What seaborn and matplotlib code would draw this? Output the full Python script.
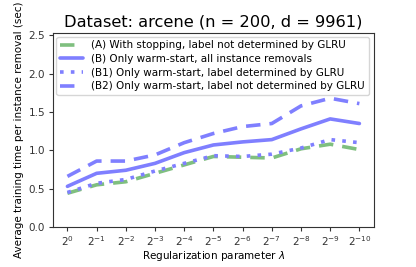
import matplotlib
matplotlib.use("Agg")
import matplotlib.pyplot as plt
import seaborn as sns
import pandas as pd
import numpy as np

sns.set_style("ticks", {"axes.edgecolor": "0.2", "text.color": "black",
                        "axes.labelcolor": "black", "xtick.color": "0.2",
                        "ytick.color": "0.2"})
plt.rcParams['font.family'] = ['DejaVu Sans']

tick_labels = [r"$2^{0}$", r"$2^{-1}$", r"$2^{-2}$", r"$2^{-3}$", r"$2^{-4}$", r"$2^{-5}$",
               r"$2^{-6}$", r"$2^{-7}$", r"$2^{-8}$", r"$2^{-9}$", r"$2^{-10}$"]
series_names = [
    "(A) With stopping, label not determined by GLRU",
    "(B) Only warm-start, all instance removals",
    "(B1) Only warm-start, label determined by GLRU",
    "(B2) Only warm-start, label not determined by GLRU",
]
a_vals = [0.44, 0.55, 0.59, 0.70, 0.81, 0.92, 0.91, 0.90, 1.02, 1.08, 1.01]
b_vals = [0.53, 0.70, 0.74, 0.83, 0.97, 1.07, 1.11, 1.14, 1.28, 1.41, 1.35]
b1_vals = [0.45, 0.57, 0.62, 0.73, 0.83, 0.93, 0.92, 0.95, 1.03, 1.14, 1.10]
b2_vals = [0.66, 0.86, 0.86, 0.94, 1.10, 1.22, 1.31, 1.35, 1.58, 1.68, 1.61]

x = list(range(len(tick_labels)))
colors = ["#7fbf7f", "#7f7fff", "#7f7fff", "#7f7fff"]
styles = [(0, (4, 2.5)), "-", (0, (1, 2)), (0, (4, 2.5))]

fig = plt.figure(figsize=(4.16, 2.67), dpi=100)
ax = fig.add_axes([0.127, 0.150, 0.772, 0.726])
for name, vals, c, ls in zip(series_names, [a_vals, b_vals, b1_vals, b2_vals], colors, styles):
    df = pd.DataFrame({"x": x, "y": vals})
    sns.lineplot(data=df, x="x", y="y", ax=ax, color=c, linestyle=ls, linewidth=2.6, label=name)

ax.set_xticks(x)
ax.set_xticklabels(tick_labels, fontsize=7.5)
ax.set_ylim(0, 2.53)
ax.set_yticks([0.0, 0.5, 1.0, 1.5, 2.0, 2.5])
ax.tick_params(axis='y', labelsize=7.5, pad=2.5)
ax.tick_params(axis='x', pad=2)
ax.tick_params(length=3)
ax.set_xlabel(r"Regularization parameter $\lambda$", fontsize=7.5, labelpad=1)
ax.set_ylabel("Average training time per instance removal (sec)", fontsize=7.5, labelpad=3)
ax.set_title("Dataset: arcene (n = 200, d = 9961)", fontsize=11.7, pad=5)
ax.legend(loc="upper left", fontsize=7.5, handlelength=2.2, borderaxespad=0.35,
          labelspacing=0.35, borderpad=0.35)
fig.savefig("out.png", dpi=100)
